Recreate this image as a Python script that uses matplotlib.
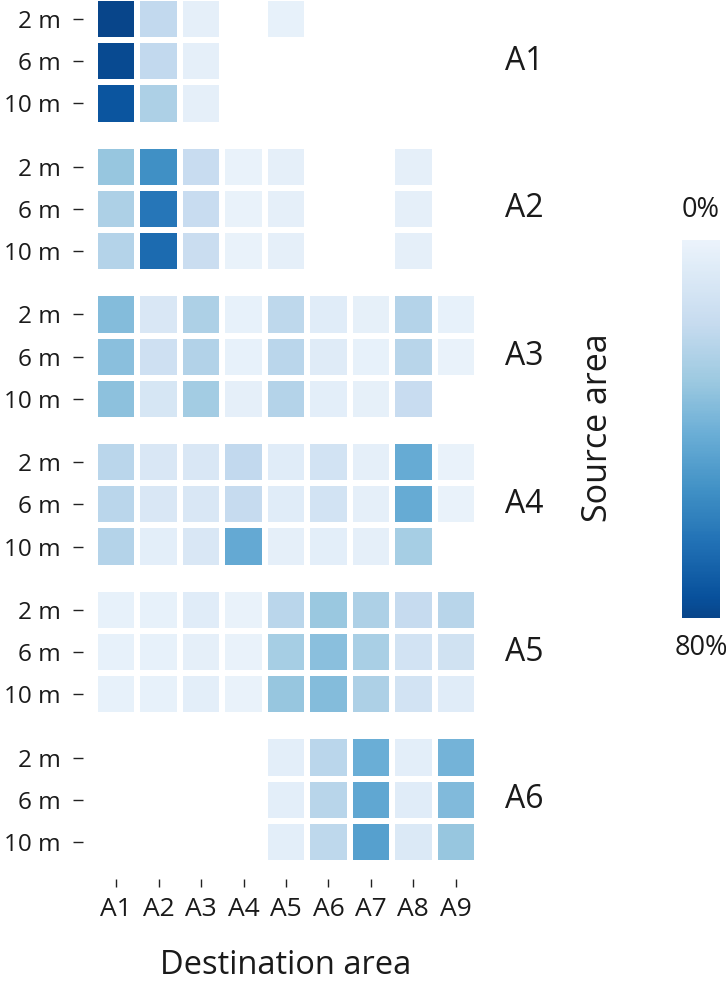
import numpy as np
import matplotlib
matplotlib.use("Agg")
import matplotlib.pyplot as plt
from matplotlib.colors import ListedColormap, Normalize

plt.rcParams['font.family'] = ['Open Sans', 'DejaVu Sans']

# === Data: share (%) of particles from each source area / depth reaching each destination area ===
destinations = ["A1", "A2", "A3", "A4", "A5", "A6", "A7", "A8", "A9"]
sources = ["A1", "A2", "A3", "A4", "A5", "A6"]
depths = ["2 m", "6 m", "10 m"]
nan = np.nan

src_a1 = [[80, 19, 3, nan, 2, nan, nan, nan, nan],
          [78, 19, 3, nan, nan, nan, nan, nan, nan],
          [74, 25, 3, nan, nan, nan, nan, nan, nan]]
src_a2 = [[31, 53, 17, 1.5, 3, nan, nan, 3, nan],
          [25, 62, 17, 1.5, 3, nan, nan, 3, nan],
          [23, 66, 16, 1.5, 3, nan, nan, 3, nan]]
src_a3 = [[35, 9, 25, 2, 20, 5, 2.5, 23, 2],
          [34, 14, 24, 2, 21, 6, 2, 22, 1.5],
          [33, 10, 28, 3, 23, 4, 2.5, 17, nan]]
src_a4 = [[21, 9, 9, 19, 5, 12, 3, 42, 1.5],
          [21, 9, 9, 18, 5, 12, 3, 42, 1.5],
          [23, 4, 9, 43, 3, 4, 3, 27, nan]]
src_a5 = [[2, 2, 5, 1.5, 21, 30, 25, 18, 22],
          [2, 2, 3, 1.5, 27, 34, 26, 12, 13],
          [2, 2, 4, 1.5, 31, 35, 25, 12, 5]]
src_a6 = [[nan, nan, nan, nan, 4, 21, 41, 4, 39],
          [nan, nan, nan, nan, 4, 22, 44, 5, 36],
          [nan, nan, nan, nan, 4, 20, 47, 8, 31]]

groups = [src_a1, src_a2, src_a3, src_a4, src_a5, src_a6]
vmin, vmax = 0, 80

# colormap: light end of Blues up to a deep blue
cmap = ListedColormap(plt.cm.Blues(np.linspace(0.06, 0.92, 256)))
norm = Normalize(vmin=vmin, vmax=vmax)

# === Plot ===
W, H = 726, 983
fig = plt.figure(figsize=(W / 100, H / 100), dpi=100)
ax = fig.add_axes([95 / W, 1 - 863 / H, 382 / W, 865 / H])

gap = 0.5
ytick_pos, ytick_lab = [], []
for g, block in enumerate(groups):
    y0 = g * (3 + gap)
    data = np.ma.masked_invalid(np.array(block, dtype=float))
    ax.pcolormesh(np.arange(len(destinations) + 1), y0 + np.arange(4), data,
                  cmap=cmap, norm=norm, edgecolors="white", linewidth=2.9)
    for r, d in enumerate(depths):
        ytick_pos.append(y0 + r + 0.5)
        ytick_lab.append(d)
    ax.text(len(destinations) + 0.66, y0 + 1.5, sources[g], fontsize=23,
            ha="left", va="center", color="#1a1a1a")

ax.set_xlim(0, len(destinations))
ax.set_ylim(len(groups) * 3 + (len(groups) - 1) * gap, 0)

ax.set_yticks(ytick_pos)
ax.set_yticklabels(ytick_lab)
ax.set_xticks(np.arange(len(destinations)) + 0.5)
ax.set_xticklabels(destinations)

ax.spines['left'].set_position(('outward', 8.5))
ax.spines['bottom'].set_position(('outward', 11.5))
for s in ax.spines.values():
    s.set_visible(False)
ax.tick_params(axis="y", length=7, width=1, pad=9, labelsize=17.5,
               color="#222222", labelcolor="#1a1a1a")
ax.tick_params(axis="x", length=6, width=1, pad=7, labelsize=19,
               color="#222222", labelcolor="#1a1a1a")

fig.text(286 / W, 1 - 966 / H, "Destination area", fontsize=23.5,
         ha="center", va="center", color="#1a1a1a")
fig.text(598 / W, 1 - 428 / H, "Source area", fontsize=24.5, rotation=90,
         ha="center", va="center", color="#1a1a1a")

# colorbar, 0% on top
cax = fig.add_axes([682 / W, 1 - 618 / H, 38 / W, 378 / H])
sm = plt.cm.ScalarMappable(cmap=cmap, norm=norm)
cb = fig.colorbar(sm, cax=cax)
cb.outline.set_visible(False)
cax.invert_yaxis()
cax.set_yticks([])
cax.text(0.5, 1.08, "0%", transform=cax.transAxes, ha="center", va="center",
         fontsize=19.5, color="#1a1a1a")
cax.text(0.5, -0.08, "80%", transform=cax.transAxes, ha="center", va="center",
         fontsize=19.5, color="#1a1a1a")

plt.savefig("out.png", dpi=100)
